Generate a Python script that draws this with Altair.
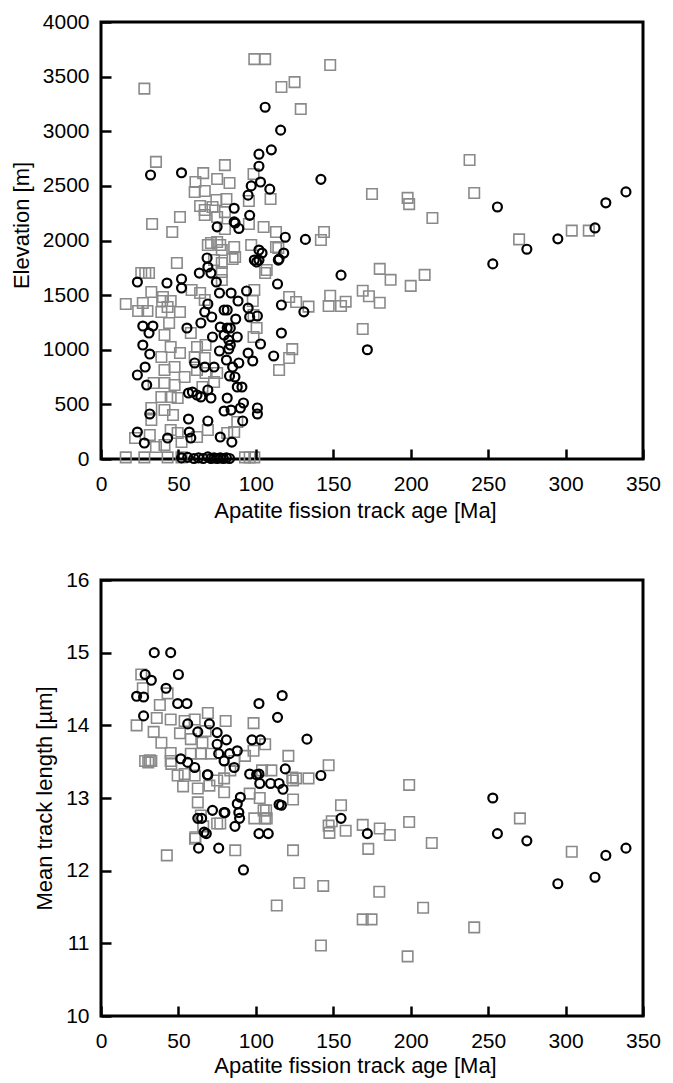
import altair as alt
import pandas as pd

FONT = "Liberation Sans"

# ---------------- Top panel: elevation vs AFT age ----------------
top_circle_age = [32, 52, 106, 116, 110, 102, 102, 103, 97, 109, 142, 95, 86, 96, 86, 89, 75, 119, 132,
                  256, 339, 326, 319, 295, 275, 253, 155, 131, 172,
                  23.5, 42.6, 52, 52, 68.5, 69, 71, 63.5, 74.5, 84, 88.5, 94, 76.5, 69, 67, 71.5, 79.5, 81.5,
                  95, 96, 101, 102, 100.5, 104, 114.5, 118, 114, 116.5, 116.5, 111.5, 103, 98, 95, 87, 77,
                  83.5, 81.5, 79.5, 82.5, 72, 76.5, 82.5, 83.5, 88, 55.5, 64.5, 27, 33.5, 31, 27, 31.5, 28.5,
                  23.5, 29.5, 60.5, 67, 73, 81, 85, 89, 83, 86.5, 88, 91, 56.5, 59, 62, 64.5, 69, 71, 81.5,
                  92, 90, 84, 79.5, 101, 101, 91.5, 69, 56.5, 57, 77, 84.5, 58, 23.5, 28, 31.5, 43,
                  102, 115, 99, 86.6,
                  52, 56, 60, 63, 66, 69, 71, 73, 75, 77, 79, 81, 83]
top_circle_elev = [2600, 2620, 3220, 3010, 2830, 2790, 2680, 2535, 2500, 2470, 2560, 2415, 2295, 2230, 2170, 2110, 2125, 2030, 2010,
                   2307, 2445, 2345, 2115, 2015, 1920, 1786, 1683, 1347, 1000,
                   1620, 1611, 1648, 1565, 1840, 1757, 1702, 1702, 1620, 1519, 1446, 1538, 1519, 1419, 1346, 1300, 1364, 1364,
                   1382, 1300, 1309, 1821, 1803, 1885, 1821, 1885, 1602, 1410, 1153, 943, 1053, 897, 970, 1281, 1208,
                   1199, 1199, 1135, 1089, 1117, 989, 1007, 1043, 1117, 1199, 1245, 1217, 1217, 1153, 1043, 961, 842,
                   769, 677, 879, 842, 842, 906, 842, 879, 760, 751, 659, 659, 604, 613, 586, 568, 632, 558, 558,
                   513, 467, 448, 439, 467, 412, 348, 348, 366, 247, 201, 155, 192, 247, 146, 412, 192,
                   1913, 1830, 1821, 2160,
                   10, 15, 5, 10, 5, 20, 5, 10, 5, 10, 5, 10, 5]

top_square_age = [28, 99, 106, 148, 125, 116.5, 129,
                  35.5, 80, 66, 75, 98.5, 61, 83, 60.5, 67, 81, 95.5, 109.5, 74.5, 64, 67, 72, 67, 75, 80, 51, 33, 46,
                  95.5, 105, 113, 144, 80,
                  238, 241, 175, 198, 199, 214, 142, 270, 304, 315, 180, 187, 209, 200, 169, 173, 180, 148, 147, 155,
                  158, 134, 169, 126, 123.5, 121.5, 115,
                  16, 24, 30, 26, 31, 32.5, 49, 39.5, 45, 51, 39, 44, 41, 45, 51, 39, 41, 47.5, 54, 34, 41, 47.5, 39, 45,
                  49.5, 32.5, 41, 46.5, 32.5, 45, 49.5, 22, 31.5, 35.5, 41, 52, 62, 67.5, 60.5, 67, 62, 67.5, 73, 75,
                  65.5, 58, 58.5, 67, 73, 78, 77, 71, 86, 85, 78, 97, 106, 99, 98, 98.5, 100.5, 98.5, 121.5, 114.5,
                  88, 86, 81.5, 69, 62,
                  28.6, 69, 75, 113, 107, 27, 40, 43, 64, 78, 78, 86.6,
                  16, 28, 43, 52, 93, 96, 99]
top_square_elev = [3390, 3660, 3660, 3606, 3450, 3405, 3203,
                   2720, 2690, 2617, 2563, 2609, 2535, 2526, 2444, 2453, 2380, 2361, 2380, 2371, 2316, 2279, 2307, 2233, 2215, 2260, 2215, 2151, 2078,
                   2151, 2124, 2078, 2078, 2105,
                   2737, 2435, 2425, 2390, 2333, 2206, 2005, 2010, 2090, 2090, 1740, 1640, 1685, 1585, 1540, 1490, 1430, 1495, 1400, 1400,
                   1440, 1395, 1190, 1437, 1006, 924, 815,
                   1419, 1355, 1355, 1702, 1702, 1528, 1794, 1446, 1446, 1346, 1346, 1245, 1135, 1025, 970, 934, 815, 842, 751, 696, 696, 677, 568, 568,
                   558, 467, 448, 403, 357, 265, 238, 192, 220, 110, 128, 155, 1025, 1043, 934, 924, 815, 787, 705, 787,
                   659, 1153, 1547, 1455, 1821, 1913, 1959, 1977, 1940, 1830, 1794, 1959, 1702, 1547, 1446, 1318, 1199, 1117, 1483, 1931,
                   339, 247, 238, 265, 201,
                   1702, 1959, 1986, 1940, 1730, 1428, 1483, 1391, 1519, 1638, 1711, 1849,
                   15, 15, 15, 15, 15, 15, 15]

# ---------------- Bottom panel: mean track length vs AFT age ----------------
bot_circle_age = [34.4, 45, 50, 28.5, 32.5, 42, 23, 27.5, 49.5, 55.5, 27.5, 56, 62.5, 70, 75, 81, 75, 102, 117, 114,
                  133, 97.5, 103, 142, 119, 51.5, 56, 60.5, 69, 76, 79.5, 83, 88, 86, 96, 102, 102.5, 109.5, 115,
                  117.5, 116.5, 88, 90, 72, 253,
                  256, 275, 295, 319, 326, 339, 92, 63, 76, 102, 108, 172, 155, 68, 86.5, 89.5, 80, 65, 115,
                  68.7, 100.5, 89, 79.5, 62.5, 66.6]
bot_circle_len = [15.0, 15.0, 14.70, 14.70, 14.62, 14.51, 14.40, 14.39, 14.30, 14.30, 14.13, 14.02, 13.91, 14.02, 13.90, 13.80, 13.74, 14.30, 14.41, 14.11,
                  13.81, 13.80, 13.80, 13.31, 13.40, 13.54, 13.49, 13.42, 13.32, 13.61, 13.51, 13.61, 13.65, 13.42, 13.33, 13.33, 13.20, 13.20, 13.20,
                  13.12, 12.90, 12.92, 13.01, 12.83, 13.0,
                  12.51, 12.41, 11.82, 11.91, 12.21, 12.31, 12.01, 12.31, 12.31, 12.51, 12.51, 12.51, 12.72, 12.51, 12.61, 12.72, 12.80, 12.72, 12.91,
                  13.32, 13.32, 12.80, 12.80, 12.72, 12.53]

bot_square_age = [26, 27, 23, 34, 39, 45, 45, 32.5, 28.5, 38, 43, 36, 45, 51, 54, 60.5, 69, 80.5, 58, 65.5, 67.5, 64.5, 71,
                  58, 54, 49.5, 53, 60.5, 62.5, 70, 75, 79.5, 83.5, 86, 93, 98.5, 98.5, 106, 104, 110, 121, 123.5, 124,
                  96, 102.5, 105, 62.5, 31.5, 147, 134, 126, 199, 155,
                  42.5, 60.7, 66, 77, 86.7, 99, 106.6, 105.9, 124, 128, 113.5, 143.5, 142, 149, 147.5, 158, 169, 172.6,
                  180, 186.5, 179.7, 169, 174.7, 199, 198, 208, 213.6, 241, 270.5, 304,
                  30.5, 45.4, 64.5, 61, 75, 79.5, 107, 124, 147]
bot_square_len = [14.70, 14.51, 14.00, 13.91, 13.76, 13.62, 13.51, 13.51, 13.51, 14.28, 14.44, 14.10, 14.08, 13.89, 14.06, 14.08, 14.17, 14.06, 13.81, 13.76, 13.92, 13.61, 13.61,
                  13.61, 13.33, 13.31, 13.16, 13.31, 13.13, 13.17, 13.24, 13.27, 13.38, 13.51, 13.58, 13.65, 14.03, 13.74, 13.38, 13.38, 13.58, 13.28, 12.98,
                  13.06, 13.00, 12.83, 12.94, 13.52, 13.45, 13.27, 13.27, 13.18, 12.90,
                  12.21, 12.44, 12.61, 12.65, 12.28, 12.72, 12.83, 12.72, 12.28, 11.83, 11.52, 11.79, 10.97, 12.68, 12.52, 12.55, 12.63, 12.30,
                  12.58, 12.49, 11.71, 11.33, 11.33, 12.67, 10.82, 11.49, 12.38, 11.22, 12.72, 12.26,
                  13.49, 13.47, 12.76, 12.46, 12.65, 13.08, 12.72, 13.24, 12.62]

X_MAJOR = [0, 50, 100, 150, 200, 250, 300, 350]
TOP_Y_MAJOR = [0, 500, 1000, 1500, 2000, 2500, 3000, 3500, 4000]
BOT_Y_MAJOR = [10, 11, 12, 13, 14, 15, 16]

W = 542
TICK = 10  # inward tick length


def make_axis(values, orient, title, label_pad, title_pad, **extra):
    return alt.Axis(
        values=values, orient=orient, format="d", domain=False, grid=False, zindex=1,
        ticks=True, tickColor="black", tickWidth=2.5, tickOpacity=1, tickSize={"expr": f"-{TICK}"},
        labelFont=FONT, labelFontSize=21, labelColor="black", labelPadding=label_pad + TICK,
        labelFlush=False, labelOverlap=False,
        title=title, titleFont=FONT, titleFontSize=22, titleFontWeight="normal",
        titleColor="black", titlePadding=title_pad, **extra)


def panel(sq_age, sq_val, ci_age, ci_val, ytitle, ydomain, ymajor, height, title_pad_x, title_y=None):
    sq = pd.DataFrame({"age": sq_age, "val": sq_val})
    ci = pd.DataFrame({"age": ci_age, "val": ci_val})
    xs = alt.Scale(domain=[0, 350], nice=False, zero=False)
    ys = alt.Scale(domain=ydomain, nice=False, zero=False)

    ax_x = make_axis(X_MAJOR, "bottom", "Apatite fission track age [Ma]", 14, title_pad_x, titleX=254)
    yextra = {"titleY": title_y} if title_y is not None else {}
    ax_y = make_axis(ymajor, "left", ytitle, 12, 9, **yextra)

    squares = alt.Chart(sq).mark_point(shape="square", filled=False, size=110, strokeWidth=1.6,
                                       color="#8a8a8a", opacity=1).encode(
        x=alt.X("age:Q", scale=xs, axis=ax_x),
        y=alt.Y("val:Q", scale=ys, axis=ax_y))
    circles = alt.Chart(ci).mark_point(shape="circle", filled=False, size=80, strokeWidth=2.2,
                                       color="black", opacity=1).encode(
        x=alt.X("age:Q", scale=xs, axis=ax_x),
        y=alt.Y("val:Q", scale=ys, axis=ax_y))
    return alt.layer(squares, circles).properties(width=W, height=height)


top = panel(top_square_age, top_square_elev, top_circle_age, top_circle_elev,
            "Elevation [m]", [0, 4000], TOP_Y_MAJOR, 437, 6, title_y=203)
bottom = panel(bot_square_age, bot_square_len, bot_circle_age, bot_circle_len,
               "Mean track length [µm]", [10, 16], BOT_Y_MAJOR, 436, 4)

chart = alt.vconcat(top, bottom, spacing=44).properties(
    padding={"left": 0, "top": 1, "right": 0, "bottom": 0}, background="white"
).configure_view(stroke="black", strokeWidth=3)

chart.save("out.html", embed_options={"renderer": "svg", "actions": False})
